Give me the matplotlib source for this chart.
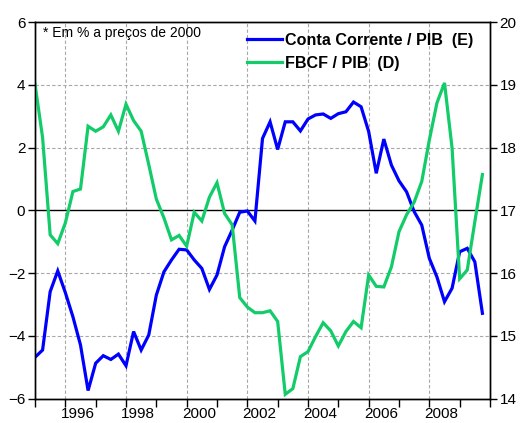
#!/usr/bin/env python3
"""
Conta Corrente / PIB vs FBCF / PIB, quarterly 1995-2009
"""

import numpy as np
import matplotlib
matplotlib.use("Agg")
import matplotlib.pyplot as plt
from matplotlib.ticker import FixedLocator, NullFormatter

plt.rcParams['font.family'] = ['Liberation Sans', 'DejaVu Sans']

# Quarterly data, 1995Q1 .. 2009Q4
start_year = 1995
conta_corrente = [
    -4.68, -4.45, -2.59, -1.93, -2.62, -3.39, -4.29, -5.74,
    -4.87, -4.63, -4.75, -4.58, -4.95, -3.86, -4.45, -3.97,
    -2.70, -1.96, -1.58, -1.24, -1.26, -1.58, -1.85, -2.52,
    -2.06, -1.16, -0.63, -0.06, -0.02, -0.34, 2.29, 2.82,
    1.94, 2.82, 2.82, 2.53, 2.91, 3.04, 3.07, 2.93,
    3.08, 3.14, 3.45, 3.30, 2.51, 1.18, 2.27, 1.44,
    0.94, 0.59, -0.04, -0.47, -1.53, -2.12, -2.91, -2.48,
    -1.32, -1.21, -1.64, -3.28,
]
fbcf = [
    19.01, 18.16, 16.61, 16.47, 16.80, 17.30, 17.34, 18.34,
    18.26, 18.33, 18.52, 18.26, 18.69, 18.43, 18.26, 17.73,
    17.18, 16.88, 16.53, 16.60, 16.43, 16.97, 16.83, 17.21,
    17.44, 16.95, 16.77, 15.61, 15.46, 15.37, 15.37, 15.40,
    15.23, 14.07, 14.16, 14.67, 14.75, 14.99, 15.21, 15.08,
    14.84, 15.07, 15.23, 15.13, 15.97, 15.79, 15.78, 16.10,
    16.66, 16.93, 17.13, 17.46, 18.12, 18.71, 19.03, 17.99,
    15.91, 16.05, 16.82, 17.57,
]
year_labels = [1996, 1998, 2000, 2002, 2004, 2006, 2008]
left_ticks = [-6, -4, -2, 0, 2, 4, 6]
right_ticks = [14, 15, 16, 17, 18, 19, 20]

t = start_year + np.arange(len(conta_corrente)) / 4.0

fig = plt.figure(figsize=(5.20, 4.23), dpi=100)
ax = fig.add_axes([35 / 520, 1 - 398.7 / 423, 455 / 520, 376.7 / 423])
ax2 = ax.twinx()

blue = '#0000ff'
green = '#12cc6a'

l1, = ax.plot(t, conta_corrente, color=blue, lw=2.3, solid_joinstyle='miter')
l2, = ax2.plot(t, fbcf, color=green, lw=2.3, solid_joinstyle='miter')

ax.set_xlim(1995, 2010)
ax.set_ylim(-6, 6)
ax2.set_ylim(14, 20)

# grid: dashed gray, solid zero line
for y in [-4, -2, 2, 4]:
    ax.axhline(y, color='#a8a8a8', lw=0.8, ls=(0, (3, 2)), zorder=0)
for yr in year_labels:
    ax.axvline(yr, color='#a8a8a8', lw=0.8, ls=(0, (3, 2)), zorder=0)
ax.axhline(0, color='black', lw=1.0, zorder=1)

# ticks
ax.set_yticks(left_ticks)
ax2.set_yticks(right_ticks)
ax.xaxis.set_major_locator(FixedLocator(np.arange(1995, 2011)))
ax.xaxis.set_major_formatter(NullFormatter())
ax.xaxis.set_minor_locator(FixedLocator([y + 0.4 for y in year_labels]))
ax.set_xticklabels([str(y) for y in year_labels], minor=True)
ax.tick_params(axis='x', which='major', direction='out', length=6, width=1)
ax.tick_params(axis='x', which='minor', length=0, pad=6, labelsize=11)
ax.tick_params(axis='y', direction='out', length=5, width=1, labelsize=11, pad=2)
ax2.tick_params(axis='y', direction='out', length=5, width=1, labelsize=11, pad=2)

for a in (ax, ax2):
    for s in a.spines.values():
        s.set_linewidth(1.0)

ax.text(0.018, 0.971, '* Em % a preços de 2000', transform=ax.transAxes,
        fontsize=10, va='center', ha='left')

leg = ax2.legend(handles=[l1, l2],
                 labels=['Conta Corrente / PIB  (E)', 'FBCF / PIB  (D)'],
                 loc='upper left', bbox_to_anchor=(0.466, 0.972), frameon=False,
                 borderpad=0, borderaxespad=0,
                 handlelength=2.2, handletextpad=0.15, labelspacing=0.5,
                 prop={'weight': 'bold', 'size': 11.6})

fig.savefig('out.png', dpi=100)
